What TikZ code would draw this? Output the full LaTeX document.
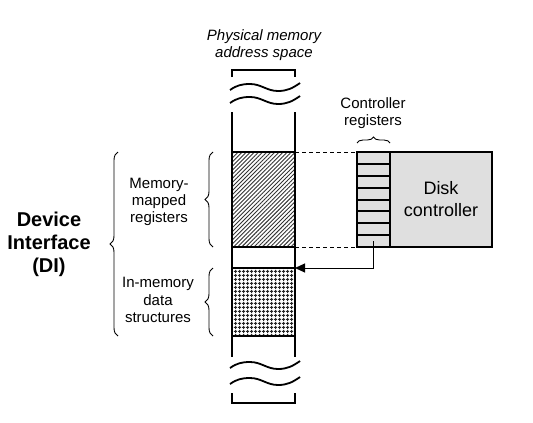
\documentclass[tikz,border=0pt]{standalone}
\usepackage{fontspec}
\setmainfont{Liberation Sans}
\usetikzlibrary{positioning,patterns.meta,decorations.pathreplacing,arrows.meta}

\begin{document}
\begin{tikzpicture}[x=1pt,y=-1pt,
  wall/.style={line width=1.8pt},
  region/.style={draw,line width=2pt,minimum width=63pt,inner sep=0pt,outer sep=0pt,anchor=north west},
  regrow/.style={draw,line width=1.8pt,fill=gray!25,minimum width=33pt,minimum height=11.875pt,inner sep=0pt,outer sep=0pt,anchor=north west},
  lbl/.style={align=center,font=\fontsize{15}{17.3}\selectfont},
  curly/.style={decorate,decoration={brace,amplitude=8pt},line width=0.9pt},
]
\useasboundingbox (0,0) rectangle (533,423);

% memory column
\draw[wall] (232,112) -- (232,357);
\draw[wall] (295,112) -- (295,357);
\draw[wall] (232,77) -- (232,70) -- (295,70) -- (295,77);
\draw[wall] (232,393) -- (232,403) -- (295,403) -- (295,393);
\foreach \y in {90,103,368,384}
  \draw[wall] (230,\y) to[out=35,in=180] (250,\y-6) to[out=0,in=180] (278,\y+1) to[out=0,in=215] (300,\y-7);

\node[region,minimum height=95pt,pattern color=black!80,pattern={Lines[angle=45,distance=2.9pt,line width=0.9pt]}] (mmio) at (232,152) {};
\node[region,minimum height=68pt,line width=2.6pt,pattern color=black!85,pattern={Hatch[angle=0,distance=4pt,line width=1.1pt]}] (dstruct) at (232,268) {};

% controller
\node[draw,line width=1.8pt,fill=gray!25,minimum width=102pt,minimum height=95pt,inner sep=0pt,outer sep=0pt,anchor=north west,align=center,font=\fontsize{18}{22}\selectfont] (disk) at (390,152) {Disk\\controller};
\foreach \i in {1,...,8}
  \node[regrow] (reg\i) at (357,{152+(\i-1)*11.875}) {};
\foreach \i in {1,...,7}
  \draw[line width=2pt] (reg\i.south west) -- (reg\i.south east);

\draw[dash pattern=on 4pt off 3pt,line width=0.8pt] (mmio.north east) -- (reg1.north west);
\draw[dash pattern=on 4pt off 3pt,line width=0.8pt] (mmio.south east) -- (reg8.south west);
\draw[line width=1pt,-{Triangle[length=10pt,width=9pt]}] (reg8.center) |- (dstruct.north east);

% labels
\node[lbl,font=\itshape\fontsize{15}{17}\selectfont] (space) at (264,45) {Physical memory\\address space};
\node[lbl] (ctrllbl) at (373,113) {Controller\\registers};
\node[lbl] (mmiolbl) at (159,202) {Memory-\\mapped\\registers};
\node[lbl] (dslbl) at (158,300) {In-memory\\data\\structures};
\node[align=center,font=\bfseries\fontsize{20}{23}\selectfont] (di) at (49,244) {Device\\Interface\\(DI)};

% braces
\draw[curly] ([xshift=-114pt]dstruct.south west) -- ([xshift=-114pt]mmio.north west);
\draw[curly] ([xshift=-19pt]mmio.south west) -- ([xshift=-19pt]mmio.north west);
\draw[curly] ([xshift=-19pt]dstruct.south west) -- ([xshift=-19pt]dstruct.north west);
\draw[curly,decoration={brace,amplitude=6pt}] ([yshift=9pt]reg1.north west) -- ([yshift=9pt]reg1.north east);
\end{tikzpicture}
\end{document}
